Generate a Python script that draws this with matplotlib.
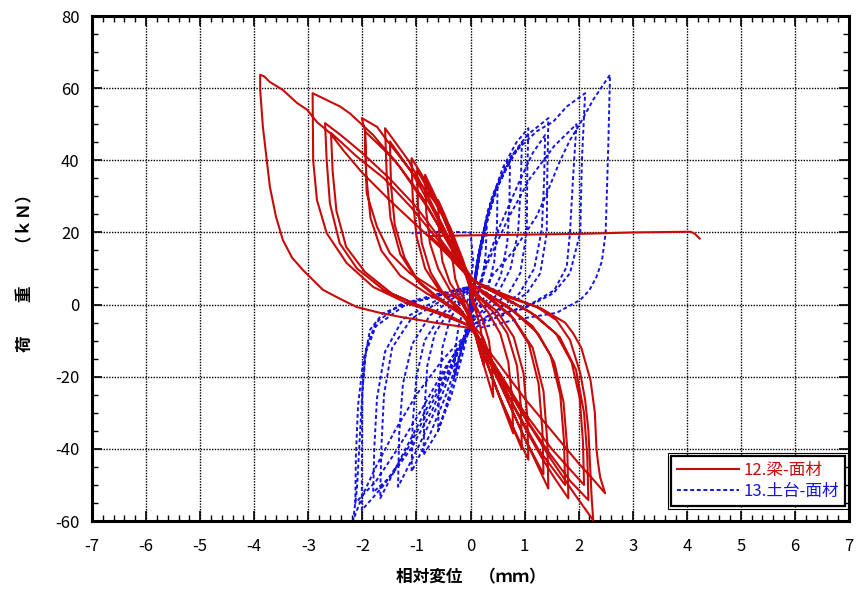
import numpy as np
import matplotlib
matplotlib.use("Agg")
import matplotlib.pyplot as plt
from matplotlib.patches import Rectangle
from matplotlib.ticker import MultipleLocator

plt.rcParams['font.family'] = ['Noto Sans CJK JP', 'DejaVu Sans']
plt.rcParams['axes.unicode_minus'] = False

# 12.梁-面材 : (displacement mm, load kN) vertices, one list per cycle
beam_c1 = [(0.05, 4), (-0.08, 9), (-0.2, 14), (-0.35, 18), (-0.33, 12), (-0.28, 7), (-0.18, 3), (-0.05, 0),
           (0.02, -4), (0.1, -9), (0.18, -13.5), (0.25, -17), (0.23, -11), (0.18, -6), (0.1, -2), (0.02, 1), (0.0, 4)]
beam_c2 = [(0.0, 4), (-0.15, 11), (-0.32, 19), (-0.48, 25), (-0.6, 29), (-0.58, 20), (-0.52, 12), (-0.38, 6), (-0.2, 2),
           (0.0, -3), (0.12, -10), (0.25, -17), (0.35, -22), (0.42, -25.6), (0.4, -17), (0.34, -10), (0.22, -4), (0.08, 0), (0.0, 4)]
beam_c3 = [(0.0, 5), (-0.2, 13), (-0.42, 22), (-0.65, 30), (-0.84, 36), (-0.82, 26), (-0.75, 17), (-0.6, 10), (-0.38, 4),
           (-0.15, 0), (0.0, -4), (0.2, -12), (0.42, -21), (0.62, -29), (0.79, -35.7), (0.77, -26), (0.7, -16), (0.55, -8),
           (0.32, -2), (0.1, 2), (0.0, 5)]
beam_c4 = [(0.0, 6), (-0.25, 15), (-0.5, 24), (-0.75, 31), (-0.99, 37.3), (-0.97, 27), (-0.9, 17), (-0.74, 9), (-0.5, 3),
           (-0.2, -1), (0.0, -5), (0.25, -14), (0.5, -24), (0.75, -33), (0.95, -40), (0.93, -28), (0.86, -17), (0.68, -8),
           (0.42, -2), (0.15, 2), (0.0, 6)]
beam_c5 = [(0.0, 6), (-0.28, 16), (-0.55, 26), (-0.82, 34), (-1.09, 40.6), (-1.07, 30), (-1.0, 19), (-0.84, 10), (-0.58, 4),
           (-0.25, -1), (0.0, -5), (0.28, -15), (0.55, -26), (0.82, -35), (1.07, -43), (1.05, -31), (0.98, -19), (0.8, -9),
           (0.5, -2), (0.18, 2), (0.0, 6)]
beam_c6 = [(0.0, 6), (-0.35, 17), (-0.75, 29), (-1.15, 40), (-1.58, 48.9), (-1.55, 36), (-1.48, 24), (-1.3, 14), (-1.0, 7),
           (-0.6, 2), (-0.2, -2), (0.0, -5), (0.23, -9), (0.48, -19), (0.73, -28), (0.97, -36), (1.22, -44), (1.44, -51),
           (1.42, -38), (1.35, -24), (1.15, -12), (0.8, -4), (0.4, 1), (0.0, 6)]
beam_c7 = [(0.0, 6), (-0.35, 16), (-0.72, 27), (-1.1, 37), (-1.49, 45.2), (-1.47, 33), (-1.4, 22), (-1.22, 13), (-0.95, 6),
           (-0.55, 1), (-0.15, -3), (0.0, -6), (0.35, -16), (0.7, -27), (1.0, -37), (1.35, -47), (1.33, -35), (1.26, -22),
           (1.08, -11), (0.75, -3), (0.35, 2), (0.0, 6)]
beam_c8 = [(0.0, 6), (-0.14, 12.4), (-0.38, 21.5), (-0.63, 28), (-0.88, 32.6), (-1.12, 37.3), (-1.36, 42), (-1.55, 45.6),
           (-1.73, 49.3), (-2.01, 51.7), (-1.95, 48), (-1.92, 30.9), (-1.73, 21.6), (-1.49, 14.2), (-1.12, 8.7), (-0.63, 4),
           (-0.14, 1.3), (0.0, -5), (0.3, -13), (0.65, -24), (1.0, -34), (1.3, -42), (1.55, -48), (1.81, -53.7), (1.79, -40),
           (1.72, -27), (1.55, -16), (1.25, -8), (0.8, -2), (0.3, 3), (0.0, 6)]
beam_c9 = [(0.0, 6), (-0.45, 18), (-0.9, 30), (-1.4, 40), (-1.95, 48), (-1.93, 36), (-1.85, 24), (-1.65, 15), (-1.3, 8),
           (-0.8, 3), (-0.3, -1), (0.0, -5), (0.4, -16), (0.8, -28), (1.25, -40), (1.75, -50), (1.73, -38), (1.66, -25),
           (1.48, -14), (1.15, -6), (0.65, 0), (0.2, 4), (0.0, 6)]
beam_c10 = [(0.0, 7), (-0.5, 17), (-1.0, 27), (-1.5, 35), (-2.0, 42), (-2.4, 47), (-2.69, 50.3), (-2.66, 40), (-2.6, 28),
            (-2.42, 17), (-2.1, 10), (-1.6, 4), (-1.0, 0), (-0.4, -3), (0.0, -6), (0.45, -17), (0.95, -30), (1.45, -41),
            (1.85, -49), (2.18, -54.2), (2.16, -42), (2.1, -30), (1.95, -18), (1.65, -9), (1.2, -3), (0.6, 2), (0.0, 7)]
beam_c11 = [(0.0, 7), (-0.55, 17), (-1.1, 27), (-1.6, 35), (-2.1, 41), (-2.58, 47.6), (-2.55, 37), (-2.48, 26), (-2.3, 16),
            (-1.95, 9), (-1.45, 3), (-0.85, -1), (-0.3, -4), (0.0, -6), (0.5, -18), (1.0, -30), (1.5, -40), (2.1, -50),
            (2.08, -38), (2.02, -26), (1.87, -16), (1.58, -8), (1.1, -2), (0.5, 3), (0.0, 7)]
beam_c12 = [(0.0, 8), (-0.4, 17), (-0.8, 27), (-1.3, 38), (-1.8, 47), (-2.23, 53), (-2.41, 54.9), (-2.66, 56.7),
            (-2.92, 58.6), (-2.91, 40), (-2.84, 29), (-2.66, 19.8), (-2.29, 11.5), (-1.8, 4.9), (-1.18, 0.4), (-0.63, -2.3),
            (0.0, -6), (0.45, -17), (0.95, -30), (1.45, -42), (1.9, -52), (2.27, -59.8), (2.24, -53.3), (2.21, -44),
            (2.18, -34.8), (2.12, -26.4), (2.03, -19), (1.84, -9.8), (1.59, -4.3), (1.22, -0.6), (0.6, 3), (0.0, 7)]
beam_c13 = [(0.0, 7), (-0.5, 15), (-1.0, 22), (-1.5, 29), (-2.0, 36.5), (-2.36, 42.9), (-2.6, 47.6), (-2.84, 50.6),
            (-3.02, 54), (-3.21, 55.9), (-3.47, 59.5), (-3.71, 61.7), (-3.82, 63.3), (-3.89, 63.7), (-3.89, 59.5),
            (-3.84, 49.3), (-3.71, 32.6), (-3.6, 24.5), (-3.47, 17.9), (-3.3, 13), (-3.1, 9.6), (-2.73, 4.1), (-2.4, 1.5),
            (-2.1, -0.7), (-1.7, -2.2), (-1.3, -3.4), (-0.62, -5.1), (0.0, -6.5), (0.5, -16), (1.0, -26), (1.5, -35),
            (2.0, -44), (2.3, -49), (2.49, -52.3), (2.4, -48), (2.36, -44), (2.33, -40), (2.3, -30), (2.22, -21),
            (2.05, -12), (1.9, -8), (1.75, -5), (1.3, -1), (0.7, 2), (0.2, 5)]
beam_tail = [(-0.3, 12), (-0.6, 17), (-0.75, 19), (0.0, 19.2), (1.0, 19.4), (2.0, 19.6), (3.0, 20.0), (4.07, 20.2),
             (4.15, 19.6), (4.24, 18.3)]

# 13.土台-面材
sill_c1 = [(0.0, -3), (0.08, 5), (0.18, 14), (0.3, 22), (0.28, 14), (0.22, 7), (0.12, 2), (0.0, -1), (-0.08, -6),
           (-0.18, -13), (-0.3, -20), (-0.28, -12), (-0.22, -6), (-0.12, -1), (0.0, 3)]
sill_c2 = [(0.0, -3), (0.1, 8), (0.22, 18), (0.36, 26), (0.5, 33), (0.49, 22), (0.44, 12), (0.32, 4), (0.15, -1), (0.0, -4),
           (-0.12, -10), (-0.28, -19), (-0.45, -28), (-0.6, -35), (-0.58, -23), (-0.52, -12), (-0.38, -4), (-0.18, 1), (0.0, 4)]
sill_c3 = [(0.0, -3), (0.1, 10), (0.25, 21), (0.45, 31), (0.73, 40.1), (0.72, 28), (0.68, 17), (0.56, 8), (0.35, 2),
           (0.12, -2), (0.0, -5), (-0.15, -14), (-0.35, -25), (-0.6, -35), (-0.87, -41.7), (-0.85, -29), (-0.8, -17),
           (-0.66, -8), (-0.4, -2), (-0.15, 2), (0.0, 5)]
sill_c4 = [(0.0, -3), (0.12, 11), (0.3, 24), (0.55, 35), (0.95, 45), (0.93, 33), (0.88, 20), (0.74, 10), (0.5, 3), (0.2, -2),
           (0.0, -5), (-0.2, -14), (-0.45, -25), (-0.75, -36), (-1.09, -46.3), (-1.07, -33), (-1.0, -20), (-0.85, -10),
           (-0.55, -3), (-0.2, 2), (0.0, 5)]
sill_c5 = [(0.0, -3), (0.12, 12), (0.32, 26), (0.6, 38), (0.85, 45), (1.07, 48.9), (1.05, 36), (1.04, 20), (0.92, 8.7),
           (0.7, 3), (0.35, -1), (0.0, -5), (-0.25, -14), (-0.55, -26), (-0.95, -39), (-1.34, -50.5), (-1.32, -36),
           (-1.25, -22), (-1.08, -11), (-0.75, -3), (-0.3, 2), (0.0, 5)]
sill_c6 = [(0.0, -3), (0.25, 10), (0.55, 22), (0.9, 34), (1.15, 42), (1.38, 47), (1.36, 34), (1.32, 21), (1.18, 10),
           (0.9, 3), (0.45, -2), (0.0, -6), (-0.35, -15), (-0.75, -27), (-1.2, -40), (-1.67, -53.7), (-1.65, -40),
           (-1.6, -25), (-1.45, -12), (-1.1, -4), (-0.55, 1), (0.0, 5)]
sill_c7 = [(0.0, -3), (0.15, 14), (0.4, 30), (0.7, 40), (1.05, 47), (1.44, 51.7), (1.42, 36), (1.41, 19.8), (1.29, 8.7),
           (1.04, 3.1), (0.6, -1), (0.0, -6), (-0.3, -15), (-0.7, -29), (-1.1, -40), (-1.5, -48), (-1.8, -52),
           (-1.78, -40), (-1.73, -26), (-1.58, -13), (-1.25, -4), (-0.65, 1), (0.0, 5)]
sill_c8 = [(0.0, -3), (0.3, 11), (0.7, 24), (1.1, 35), (1.55, 44), (1.96, 50), (1.9, 36), (1.84, 20), (1.78, 10.5),
           (1.55, 4), (1.1, 0), (0.5, -3), (0.0, -6), (-0.4, -18), (-0.8, -30), (-1.2, -41), (-1.6, -50), (-2.01, -57),
           (-2.01, -45), (-2.0, -24), (-1.93, -12), (-1.75, -5), (-1.3, 0), (-0.6, 3), (0.0, 5)]
sill_c9 = [(0.0, -3), (0.18, 16), (0.45, 31), (0.8, 42), (1.22, 48), (1.53, 50.7), (1.78, 54.9), (2.12, 58.6), (2.06, 40),
           (2.03, 20), (1.84, 8.7), (1.53, 3.1), (1.0, -1), (0.4, -4), (0.0, -7), (-0.45, -17), (-0.9, -29), (-1.35, -40),
           (-1.75, -49), (-2.13, -55), (-2.12, -42), (-2.08, -28), (-1.98, -15), (-1.75, -6), (-1.2, 0), (-0.5, 3), (0.0, 5)]
sill_c10 = [(0.0, -3), (0.4, 8), (0.8, 15), (1.22, 24.4), (1.41, 30.8), (1.66, 40), (1.84, 45.6), (2.03, 50.3),
            (2.27, 56.8), (2.43, 60.4), (2.58, 63.7), (2.55, 45), (2.5, 20), (2.43, 12), (2.33, 7.7), (2.2, 4),
            (2.03, 1.3), (1.59, -2.3), (0.9, -4), (0.0, -7), (-0.5, -15), (-1.0, -25), (-1.4, -35), (-1.75, -45),
            (-2.0, -53), (-2.17, -59.8), (-2.1, -51), (-2.0, -24), (-1.95, -14.5), (-1.86, -7), (-1.62, -2.4),
            (-1.17, 0.4), (-0.69, 2), (0.0, 5)]
sill_tail = [(0.05, 12), (0.0, 20), (-0.5, 20.2), (-1.09, 19.8)]

beam_cycles = [beam_c1, beam_c2, beam_c3, beam_c4, beam_c5, beam_c6, beam_c7, beam_c8, beam_c9,
               beam_c10, beam_c11, beam_c12, beam_c13, beam_tail]
sill_cycles = [sill_c1, sill_c2, sill_c3, sill_c4, sill_c5, sill_c6, sill_c7, sill_c8, sill_c9,
               sill_c10, sill_tail]

beam = np.array([p for c in beam_cycles for p in c])
sill = np.array([p for c in sill_cycles for p in c])

fig = plt.figure(figsize=(8.56, 5.91), dpi=100)
ax = fig.add_axes([0.1075, 0.1184, 0.8843, 0.8545])

red = '#C80A0A'
blue = '#1414E6'
ax.plot(beam[:, 0], beam[:, 1], color=red, lw=1.5, label='12.梁-面材', zorder=3)
ax.plot(sill[:, 0], sill[:, 1], color=blue, lw=1.4, ls=(0, (2, 1.4)), label='13.土台-面材', zorder=2)

ax.set_xlim(-7, 7)
ax.set_ylim(-60, 80)
ax.xaxis.set_major_locator(MultipleLocator(1))
ax.xaxis.set_minor_locator(MultipleLocator(0.2))
ax.yaxis.set_major_locator(MultipleLocator(20))
ax.yaxis.set_minor_locator(MultipleLocator(5))
ax.tick_params(which='both', direction='in', top=True, right=True, colors='black', labelsize=12)
ax.tick_params(which='major', length=7, width=1.2)
ax.tick_params(which='minor', length=4, width=1)
ax.tick_params(axis='x', pad=12)
ax.tick_params(axis='y', pad=9)
ax.grid(True, which='major', color='black', ls=(0, (1, 1)), lw=1)
for s in ax.spines.values():
    s.set_linewidth(2.2)

ax.set_xlabel('相対変位　（ｍｍ）', fontsize=12, fontweight='bold', labelpad=10)
ax.set_ylabel('荷　　重　　（ｋＮ）', fontsize=12, fontweight='bold', labelpad=15)

leg = ax.legend(loc='lower right', bbox_to_anchor=(0.995, 0.03), borderaxespad=0, fontsize=12,
                handlelength=3.7, fancybox=False, framealpha=1, edgecolor='black', borderpad=0.35,
                labelspacing=0.25, handletextpad=0.3)
leg.get_frame().set_linewidth(1.6)
for t, c in zip(leg.get_texts(), [red, blue]):
    t.set_color(c)

fig.canvas.draw()
bb = leg.get_window_extent().transformed(fig.transFigure.inverted())
dx, dy = 3 / 856, 3 / 591
fig.patches.append(Rectangle((bb.x0 - dx, bb.y0 - dy), bb.width + 2 * dx, bb.height + 2 * dy,
                             transform=fig.transFigure, fill=False, ec='black', lw=0.8, zorder=10))

fig.savefig('out.png', dpi=100)
